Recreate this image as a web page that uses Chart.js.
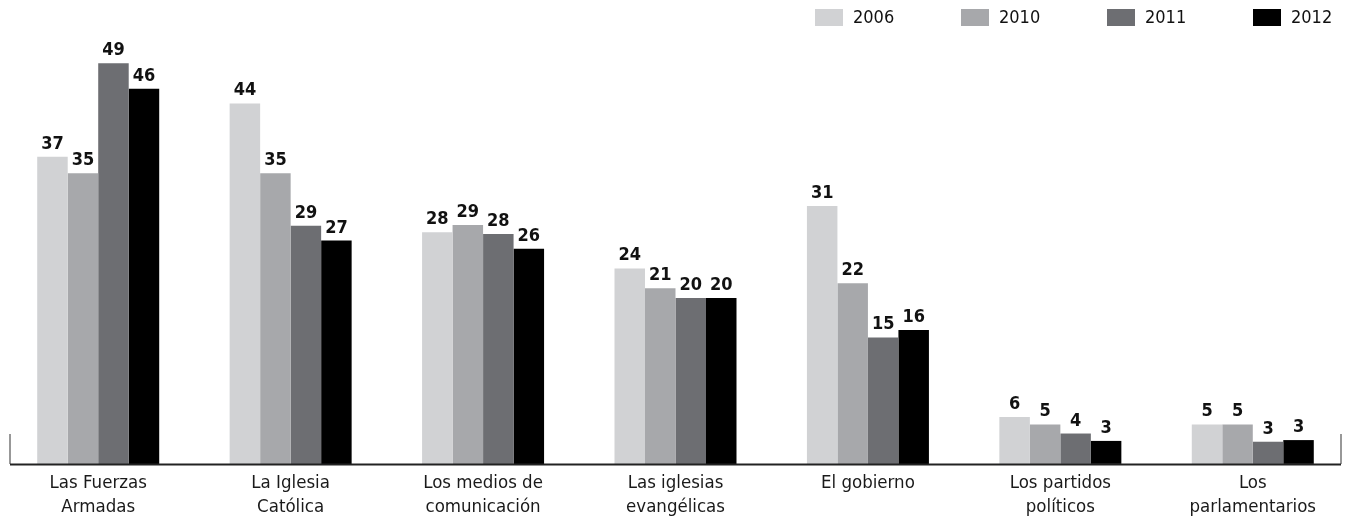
<!DOCTYPE html>
<html>
<head>
<meta charset="utf-8">
<script src="https://cdn.jsdelivr.net/npm/chart.js@4"></script>
<style>
  html, body { margin: 0; background: #fff; overflow: hidden; }
  canvas { display: block; }
</style>
</head>
<body>
<canvas id="grafico" width="1349" height="526"></canvas>
<script>
// Categorias (rótulos do eixo x, em duas linhas quando preciso)
const categorias = [
    ['Las Fuerzas', 'Armadas'],
    ['La Iglesia', 'Católica'],
    ['Los medios de', 'comunicación'],
    ['Las iglesias', 'evangélicas'],
    'El gobierno',
    ['Los partidos', 'políticos'],
    ['Los', 'parlamentarios']
];

const anos = ['2006', '2010', '2011', '2012'];

// Valores (altura das barras; rótulo = valor arredondado)
const valores2006 = [37.4, 43.9, 28.2, 23.8, 31.4, 5.7, 4.8];
const valores2010 = [35.4, 35.4, 29.1, 21.4, 22.0, 4.8, 4.8];
const valores2011 = [48.8, 29.0, 28.0, 20.2, 15.4, 3.7, 2.7];
const valores2012 = [45.7, 27.2, 26.2, 20.2, 16.3, 2.8, 2.9];

const cores = ['#d1d2d4', '#a7a8ab', '#6d6e72', '#000000'];

const fonteTexto = "'Liberation Sans Narrow', 'Arial Narrow', 'DejaVu Sans Condensed', sans-serif";

// Rótulos de valor em cima das barras
const rotulosPlugin = {
    id: 'rotulos',
    afterDatasetsDraw(chart) {
        const ctx = chart.ctx;
        ctx.save();
        ctx.font = 'bold 18px ' + fonteTexto;
        ctx.fillStyle = '#111';
        ctx.textAlign = 'center';
        ctx.textBaseline = 'alphabetic';
        chart.data.datasets.forEach((ds, i) => {
            chart.getDatasetMeta(i).data.forEach((bar, j) => {
                ctx.fillText(Math.round(ds.data[j]), bar.x, bar.y - 8);
            });
        });
        ctx.restore();
    }
};

// Linha de base com as marcas nas pontas
const eixoPlugin = {
    id: 'eixo',
    afterDraw(chart) {
        const ctx = chart.ctx;
        const x = chart.scales.x;
        const base = chart.scales.y.getPixelForValue(0);
        const meio = (x.getPixelForValue(1) - x.getPixelForValue(0)) / 2;
        const esq = x.getPixelForValue(0) - meio + 8;
        const dir = x.getPixelForValue(categorias.length - 1) + meio - 8;
        ctx.save();
        ctx.strokeStyle = '#777';
        ctx.lineWidth = 1.5;
        ctx.beginPath();
        ctx.moveTo(esq, base - 30);
        ctx.lineTo(esq, base);
        ctx.moveTo(dir, base - 30);
        ctx.lineTo(dir, base);
        ctx.stroke();
        ctx.strokeStyle = '#222';
        ctx.lineWidth = 2;
        ctx.beginPath();
        ctx.moveTo(esq, base + 0.5);
        ctx.lineTo(dir, base + 0.5);
        ctx.stroke();
        ctx.restore();
    }
};

// Legenda no canto superior direito
const legendaPlugin = {
    id: 'legenda',
    afterDraw(chart) {
        const ctx = chart.ctx;
        const passo = 146;
        let xCaixa = chart.width - 96 - passo * (anos.length - 1);
        ctx.save();
        ctx.font = '18px ' + fonteTexto;
        ctx.textBaseline = 'middle';
        ctx.textAlign = 'left';
        chart.data.datasets.forEach(ds => {
            ctx.fillStyle = ds.backgroundColor;
            ctx.fillRect(xCaixa, 9, 28, 17);
            ctx.fillStyle = '#111';
            ctx.fillText(ds.label, xCaixa + 38, 18);
            xCaixa += passo;
        });
        ctx.restore();
    }
};

const series = [valores2006, valores2010, valores2011, valores2012];

const ctx = document.getElementById('grafico').getContext('2d');
const meuGrafico = new Chart(ctx, {
    type: 'bar',
    data: {
        labels: categorias,
        datasets: series.map((valores, i) => ({
            label: anos[i],
            data: valores,
            backgroundColor: cores[i],
            borderWidth: 0,
            categoryPercentage: 0.634,
            barPercentage: 1
        }))
    },
    options: {
        responsive: false,
        devicePixelRatio: 1,
        animation: false,
        layout: {
            padding: { left: 2, right: 0, top: 0, bottom: 0 }
        },
        scales: {
            x: {
                grid: { display: false, drawTicks: false },
                border: { display: false },
                ticks: {
                    color: '#1a1a1a',
                    font: { family: fonteTexto, size: 18.5, lineHeight: 1.3 },
                    padding: 7,
                    maxRotation: 0,
                    autoSkip: false
                }
            },
            y: {
                display: false,
                min: 0,
                max: 56.5
            }
        },
        plugins: {
            legend: { display: false },
            tooltip: { enabled: false }
        }
    },
    plugins: [rotulosPlugin, eixoPlugin, legendaPlugin]
});
</script>
</body>
</html>
